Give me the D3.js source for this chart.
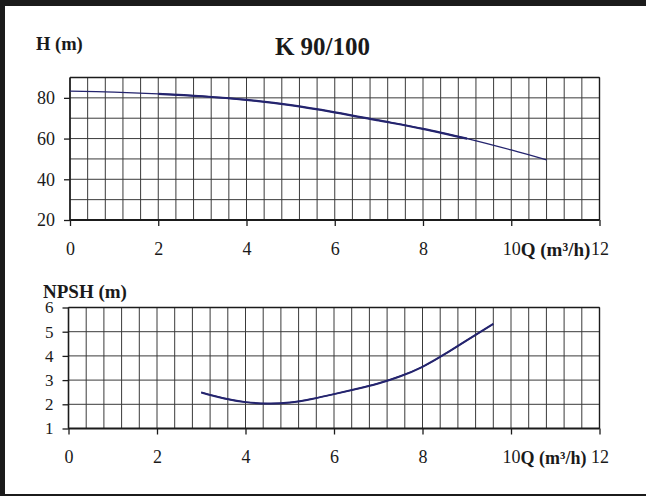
<!DOCTYPE html>
<html>
<head>
<meta charset="utf-8">
<script src="https://cdn.jsdelivr.net/npm/d3@7"></script>
<style>
  html, body { margin: 0; padding: 0; background: #fff; }
  svg { display: block; }
  text { font-family: "Liberation Serif", "Times New Roman", serif; fill: #1a1a1a; }
</style>
</head>
<body>
<svg id="chart" width="646" height="496"></svg>
<script>
// ---- data ----
const title = "K 90/100";
const headLabel = "H (m)";
const npshLabel = "NPSH (m)";
const flowLabel = "Q (m³/h)";

const xTicks = [0, 2, 4, 6, 8, 10, 12];
const headTicks = [20, 40, 60, 80];
const npshTicks = [1, 2, 3, 4, 5, 6];

const headQ = [0, 1, 2, 3, 4, 5, 6, 7, 8, 9, 10, 10.8];
const headH = [83.3, 82.8, 82.0, 80.8, 79.0, 76.4, 72.9, 68.9, 64.8, 60.0, 54.4, 49.5];

const npshQ = [3, 3.5, 4, 4.5, 5, 5.5, 6, 6.5, 7, 7.5, 8, 8.5, 9, 9.6];
const npshV = [2.49, 2.25, 2.09, 2.03, 2.07, 2.22, 2.42, 2.63, 2.86, 3.16, 3.55, 4.07, 4.64, 5.32];

// ---- drawing ----
const svg = d3.select("#chart");
const ink = "#1b1b1b";
const gridColor = "#3a3a3a";
const curveColor = "#24246e";

// page frame
svg.append("rect").attr("x", 0).attr("y", 0).attr("width", 646).attr("height", 6).attr("fill", ink);
svg.append("rect").attr("x", 0).attr("y", 0).attr("width", 5).attr("height", 496).attr("fill", ink);
svg.append("rect").attr("x", 0).attr("y", 494).attr("width", 646).attr("height", 2).attr("fill", ink);

function panel(opts) {
  const { x, y, yMinor, yTickVals, yFont, xFont, xPad, qFont, data, thick, curve } = opts;
  const g = svg.append("g");
  const [x0, x1] = x.range();
  const [y0, y1] = y.range();

  // vertical grid
  g.append("g").selectAll("line").data(d3.range(0, 12.0001, 0.4)).join("line")
    .attr("x1", d => x(d)).attr("x2", d => x(d))
    .attr("y1", y0).attr("y2", y1)
    .attr("stroke", gridColor).attr("stroke-width", 1);
  // horizontal grid
  g.append("g").selectAll("line").data(yMinor).join("line")
    .attr("x1", x0).attr("x2", x1)
    .attr("y1", d => y(d)).attr("y2", d => y(d))
    .attr("stroke", gridColor).attr("stroke-width", 1);

  // axes
  const ax = g.append("g").attr("transform", `translate(0,${y0})`)
    .call(d3.axisBottom(x).tickValues(xTicks).tickSize(6).tickPadding(xPad).tickFormat(d3.format("d")));
  ax.select(".domain").remove();
  ax.selectAll(".tick line").attr("stroke", ink).attr("stroke-width", 1.3);
  ax.selectAll(".tick text").attr("font-size", xFont).attr("font-family", "Liberation Serif").attr("fill", ink);

  const ay = g.append("g").attr("transform", `translate(${x0},0)`)
    .call(d3.axisLeft(y).tickValues(yTickVals).tickSize(6).tickPadding(9).tickFormat(d3.format("d")));
  ay.select(".domain").remove();
  ay.selectAll(".tick line").attr("stroke", ink).attr("stroke-width", 1.3);
  ay.selectAll(".tick text").attr("font-size", yFont).attr("font-family", "Liberation Serif").attr("fill", ink);

  // plot frame
  g.append("line").attr("x1", x0).attr("x2", x1).attr("y1", y0).attr("y2", y0).attr("stroke", ink).attr("stroke-width", 1.8);
  g.append("line").attr("x1", x0).attr("x2", x0).attr("y1", y0).attr("y2", y1).attr("stroke", ink).attr("stroke-width", 1.6);
  g.append("line").attr("x1", x0).attr("x2", x1).attr("y1", y1).attr("y2", y1).attr("stroke", ink).attr("stroke-width", 1.4);
  g.append("line").attr("x1", x1).attr("x2", x1).attr("y1", y0).attr("y2", y1).attr("stroke", ink).attr("stroke-width", 1.4);

  // flow label right after the "10" tick label
  const tenText = ax.selectAll(".tick").filter(d => d === 10).select("text");
  const bb = tenText.node().getBBox();
  const baselineY = y0 + 6 + xPad + 0.71 * xFont;
  g.append("text").attr("x", x(10) + bb.width / 2 + 0.5).attr("y", baselineY + 1.5)
    .attr("font-size", qFont).attr("font-weight", "bold").attr("fill", ink).text(flowLabel);

  // curve
  const line = d3.line().x(d => x(d[0])).y(d => y(d[1])).curve(curve);
  g.append("path").datum(data).attr("d", line)
    .attr("fill", "none").attr("stroke", curveColor).attr("stroke-width", 1.3);
  if (thick) {
    g.append("path").datum(data.filter(d => d[0] >= thick[0] && d[0] <= thick[1])).attr("d", line)
      .attr("fill", "none").attr("stroke", curveColor).attr("stroke-width", 2.2);
  } else {
    g.append("path").datum(data).attr("d", line)
      .attr("fill", "none").attr("stroke", curveColor).attr("stroke-width", 2);
  }
  return g;
}

// head panel
const xTop = d3.scaleLinear().domain([0, 12]).range([70, 599.5]);
const yTop = d3.scaleLinear().domain([20, 90]).range([220, 77.5]);
panel({
  x: xTop, y: yTop,
  yMinor: d3.range(20, 90.001, 10),
  yTickVals: headTicks, yFont: 18, xFont: 18, xPad: 16, qFont: 19,
  data: headQ.map((q, i) => [q, headH[i]]),
  thick: [1.9, 9.1],
  curve: d3.curveCatmullRom.alpha(0.5)
});

// NPSH panel
const xBot = d3.scaleLinear().domain([0, 12]).range([68.5, 599.5]);
const yBot = d3.scaleLinear().domain([1, 6]).range([428.5, 307.5]);
panel({
  x: xBot, y: yBot,
  yMinor: d3.range(1, 6.001, 1),
  yTickVals: npshTicks, yFont: 17, xFont: 18, xPad: 15.5, qFont: 18,
  data: npshQ.map((q, i) => [q, npshV[i]]),
  curve: d3.curveNatural
});

// titles
svg.append("text").attr("x", 36).attr("y", 50).attr("font-size", 18.5).attr("font-weight", "bold").attr("fill", ink).text(headLabel);
svg.append("text").attr("x", 322.5).attr("y", 55).attr("text-anchor", "middle").attr("font-size", 25).attr("font-weight", "bold").attr("fill", ink).text(title);
svg.append("text").attr("x", 43).attr("y", 297.5).attr("font-size", 19).attr("font-weight", "bold").attr("fill", ink).text(npshLabel);
</script>
</body>
</html>
